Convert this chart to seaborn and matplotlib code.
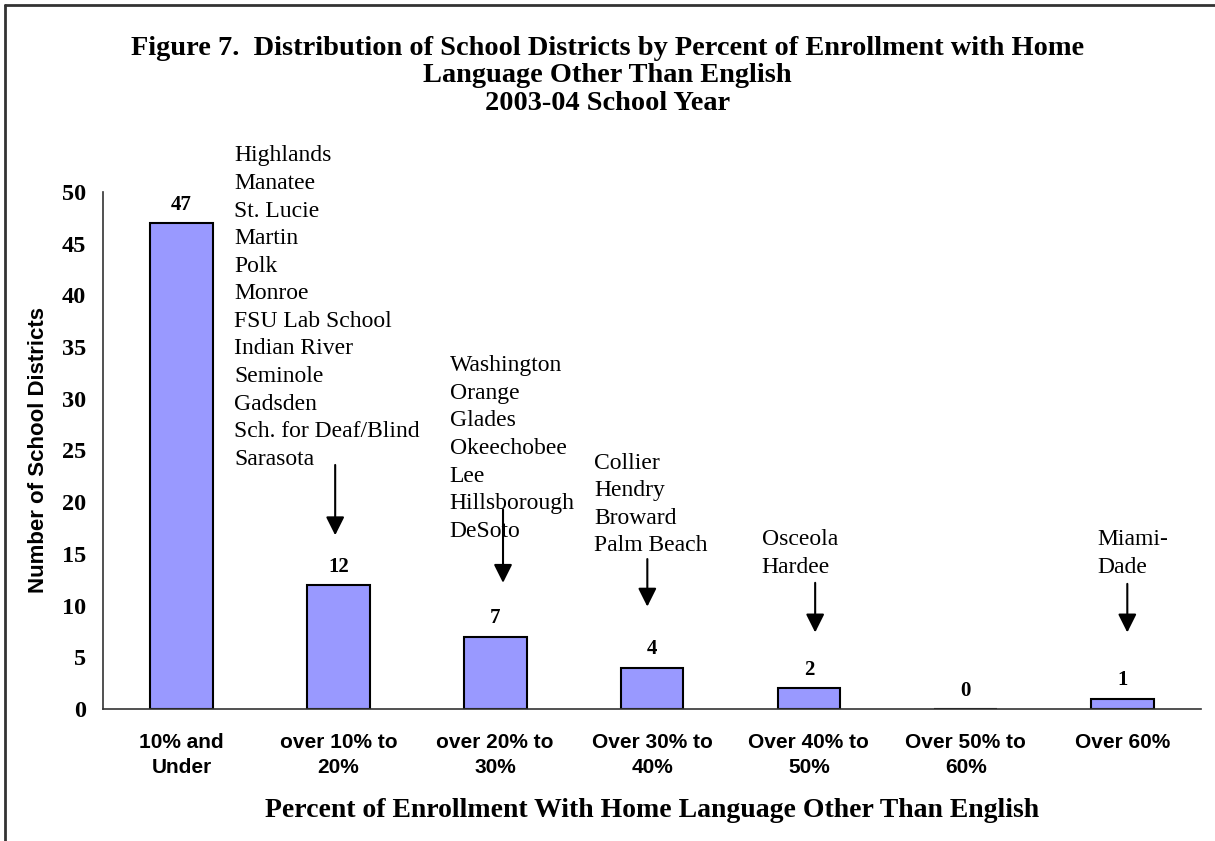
import matplotlib
matplotlib.use("Agg")
import matplotlib.pyplot as plt
from matplotlib.lines import Line2D
import seaborn as sns
import pandas as pd

# Chart data
categories = ["10% and\nUnder", "over 10% to\n20%", "over 20% to\n30%",
              "Over 30% to\n40%", "Over 40% to\n50%", "Over 50% to\n60%",
              "Over 60%"]
district_counts = [47, 12, 7, 4, 2, 0, 1]

# District names listed above each bar group
names_10_20 = ["Highlands", "Manatee", "St. Lucie", "Martin", "Polk", "Monroe",
               "FSU Lab School", "Indian River", "Seminole", "Gadsden",
               "Sch. for Deaf/Blind", "Sarasota"]
names_20_30 = ["Washington", "Orange", "Glades", "Okeechobee", "Lee",
               "Hillsborough", "DeSoto"]
names_30_40 = ["Collier", "Hendry", "Broward", "Palm Beach"]
names_40_50 = ["Osceola", "Hardee"]
names_60 = ["Miami-", "Dade"]

# (names, text x, text top y, arrow x, arrow start y, arrow end y)
annotations = [
    (names_10_20, 0.335, 54.5, 0.98, 23.6, 16.8),
    (names_20_30, 1.71, 34.2, 2.05, 19.3, 12.2),
    (names_30_40, 2.63, 24.8, 2.97, 14.5, 9.9),
    (names_40_50, 3.70, 17.4, 4.04, 12.2, 7.4),
    (names_60, 5.84, 17.4, 6.03, 12.1, 7.4),
]

df = pd.DataFrame({"category": categories, "count": district_counts})

sns.set_style("white")
plt.rcParams.update({"text.color": "black", "axes.labelcolor": "black",
                     "xtick.color": "black", "ytick.color": "black"})
serif = ["Liberation Serif", "DejaVu Serif"]
sans = ["Liberation Sans", "DejaVu Sans"]

fig = plt.figure(figsize=(12.15, 8.41), dpi=100)
ax = fig.add_axes([0.0848, 0.157, 0.9037, 0.6147])

sns.barplot(data=df, x="category", y="count", color="#9999FF",
            saturation=1, width=0.4, edgecolor="black", linewidth=1.5, ax=ax)

ax.bar_label(ax.containers[0], fontsize=15, fontweight="bold",
             family=serif, padding=6)

ax.set_xlim(-0.5, len(categories) - 0.5)
ax.set_ylim(0, 50)
ax.set_yticks(range(0, 51, 5))
for lbl in ax.get_yticklabels():
    lbl.set_family(serif)
    lbl.set_fontweight("bold")
    lbl.set_fontsize(17.5)

# category labels sit between boundary ticks
ax.set_xticks([i + 0.5 for i in range(-1, len(categories))], minor=False)
ax.set_xticklabels([])
ax.set_xticks(range(len(categories)), minor=True)
ax.set_xticklabels(categories, minor=True, family=sans, fontweight="bold",
                   fontsize=15)
for lbl in ax.get_xticklabels(minor=True):
    lbl.set_linespacing(1.45)
ax.tick_params(axis="x", which="major", direction="inout", length=12,
               width=1, color="#444444")
ax.tick_params(axis="x", which="minor", length=0, pad=17)
ax.tick_params(axis="y", direction="inout", length=14, width=1,
               color="#444444", pad=5)

for side in ["top", "right"]:
    ax.spines[side].set_visible(False)
for side in ["left", "bottom"]:
    ax.spines[side].set_color("#333333")
    ax.spines[side].set_linewidth(1.2)

ax.set_ylabel("Number of School Districts", family=sans, fontweight="bold",
              fontsize=16, labelpad=9)
ax.set_xlabel("Percent of Enrollment With Home Language Other Than English",
              family=serif, fontweight="bold", fontsize=20, labelpad=15)

for names, tx, ty, axx, ay0, ay1 in annotations:
    ax.text(tx, ty, "\n".join(names), ha="left", va="top", family=serif,
            fontsize=17, linespacing=1.41, clip_on=False)
    ax.annotate("", xy=(axx, ay1), xytext=(axx, ay0),
                arrowprops=dict(arrowstyle="-|>", color="black", lw=1.5,
                                mutation_scale=28, shrinkA=0, shrinkB=0))

fig.text(0.5, 0.957,
         "Figure 7.  Distribution of School Districts by Percent of Enrollment with Home\n"
         "Language Other Than English\n2003-04 School Year",
         ha="center", va="top", family=serif, fontweight="bold", fontsize=20.4,
         linespacing=1.12)

# page frame (left and top rules)
fig.add_artist(Line2D([0.0045, 0.0045], [0, 0.994], transform=fig.transFigure,
                      color="#333333", lw=2))
fig.add_artist(Line2D([0.0045, 1], [0.994, 0.994], transform=fig.transFigure,
                      color="#333333", lw=2))

fig.savefig("out.png", dpi=100)
